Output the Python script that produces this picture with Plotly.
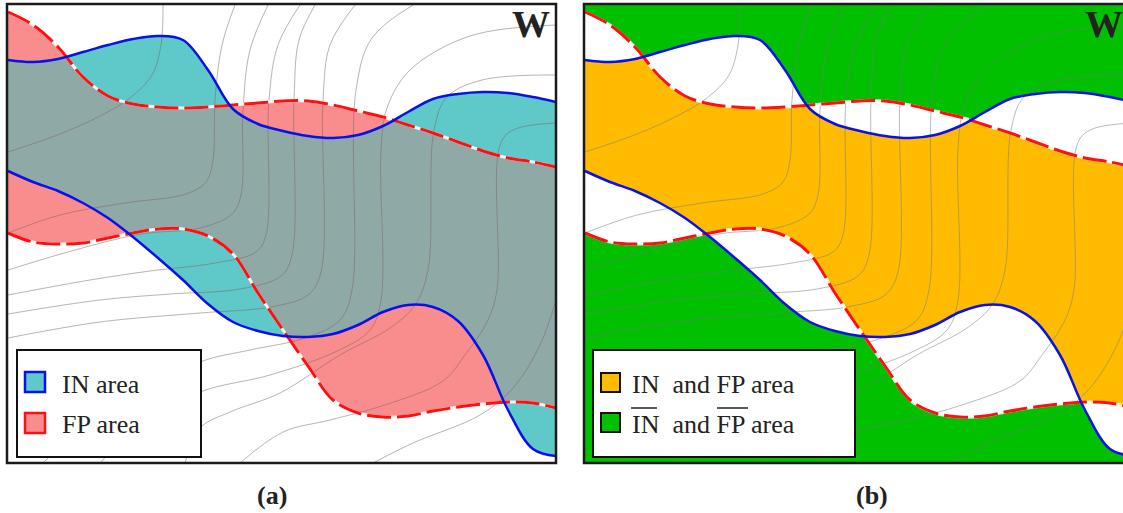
import numpy as np
import plotly.graph_objects as go

FIG_W, FIG_H = 1123, 513

# ---- boundary curves (panel pixel coordinates, y downward) ----
X = [8, 33, 58, 83, 108, 133, 158, 183, 208, 233, 258, 283, 308, 333, 358, 383, 408, 433, 458, 483, 508, 533, 556]
IN_TOP = [60, 62, 59, 52, 45, 39, 36, 40, 70, 109, 124, 131, 136, 138, 135, 126, 112, 99, 94, 92, 93, 97, 102]
IN_BOTTOM = [171, 182, 191, 203, 218, 237, 258, 280, 304, 322, 331, 336, 337, 334, 325, 312, 305, 307, 321, 355, 410, 449, 456]
FP_TOP = [12, 25, 47, 77, 96, 104, 107, 108, 107, 105, 103, 101, 101, 105, 111, 117, 125, 133, 142, 151, 158, 162, 167]
FP_BOTTOM = [233, 242, 244, 243, 238, 233, 229, 229, 236, 254, 293, 330, 366, 400, 413, 417, 416, 411, 407, 404, 402, 403, 408]

# ---- background contour lines ----
CONTOUR_A = [(163, 5), (161, 45), (152, 75), (130, 98), (100, 116), (60, 134), (8, 152)]
CONTOUR_B = [(235, 5), (222, 45), (215, 100), (213, 160), (206, 182), (186, 194), (125, 203), (60, 215), (8, 233)]
CONTOUR_C = [(268, 5), (250, 50), (243, 110), (241, 195), (232, 214), (200, 228), (141, 234), (75, 250), (8, 270)]
CONTOUR_D = [(300, 5), (278, 45), (269, 100), (266, 235), (256, 252), (215, 263), (150, 271), (90, 280), (8, 295)]
CONTOUR_E = [(315, 5), (299, 40), (294, 100), (292, 255), (281, 276), (240, 289), (170, 294), (100, 300), (8, 314)]
CONTOUR_F = [(355, 5), (330, 45), (323, 100), (321, 272), (308, 295), (270, 307), (200, 313), (100, 322), (8, 338)]
CONTOUR_G = [(413, 5), (372, 38), (356, 90), (352, 290), (340, 320), (305, 338), (250, 350), (200, 362), (130, 400), (80, 430), (43, 463)]
CONTOUR_H = [(556, 25), (470, 36), (410, 70), (387, 108), (381, 150), (381, 300), (370, 330), (335, 352), (270, 375), (200, 392), (140, 425), (100, 463)]
CONTOUR_I = [(556, 75), (482, 80), (447, 97), (434, 130), (428, 270), (415, 305), (390, 328), (340, 355), (280, 393), (230, 412), (200, 428), (185, 463)]
CONTOUR_J = [(556, 123), (513, 130), (500, 145), (497, 290), (487, 322), (465, 355), (443, 381), (385, 405), (330, 420), (283, 432), (240, 463)]
CONTOUR_K = [(556, 300), (540, 345), (513, 388), (480, 415), (413, 443), (373, 463)]
CONTOURS = [CONTOUR_A, CONTOUR_B, CONTOUR_C, CONTOUR_D, CONTOUR_E, CONTOUR_F,
            CONTOUR_G, CONTOUR_H, CONTOUR_I, CONTOUR_J, CONTOUR_K]

# ---- colours ----
TEAL = "#5fc8c8"
PINK = "#f98c8c"
GREYMIX = "#8fa9a7"
ORANGE = "#ffbb00"
GREEN = "#00c000"
BLUE = "#0a10e8"
RED = "#ff1010"


def merge(x, a, b, fn):
    xs, ys = [], []
    for i in range(len(x)):
        xs.append(x[i])
        ys.append(fn(a[i], b[i]))
        if i < len(x) - 1:
            d0 = a[i] - b[i]
            d1 = a[i + 1] - b[i + 1]
            if d0 * d1 < 0:
                t = d0 / (d0 - d1)
                xs.append(x[i] + t * (x[i + 1] - x[i]))
                ys.append(a[i] + t * (a[i + 1] - a[i]))
    return xs, ys


ix_t, iy_t = merge(X, IN_TOP, FP_TOP, max)
ix_b, iy_b = merge(X, IN_BOTTOM, FP_BOTTOM, min)
ux_t, uy_t = merge(X, IN_TOP, FP_TOP, min)
ux_b, uy_b = merge(X, IN_BOTTOM, FP_BOTTOM, max)

fig = go.Figure()


def band(xa, ya, xb, yb, color, ax):
    xr, yr = ("x", "y") if ax == 1 else ("x2", "y2")
    fig.add_trace(go.Scatter(x=xa, y=ya, mode="lines", line=dict(width=0, shape="spline"),
                             xaxis=xr, yaxis=yr, hoverinfo="skip", showlegend=False))
    fig.add_trace(go.Scatter(x=xb, y=yb, mode="lines", line=dict(width=0, shape="spline"),
                             fill="tonexty", fillcolor=color,
                             xaxis=xr, yaxis=yr, hoverinfo="skip", showlegend=False))


def contours(ax, color):
    xr, yr = ("x", "y") if ax == 1 else ("x2", "y2")
    for c in CONTOURS:
        fig.add_trace(go.Scatter(x=[p[0] for p in c], y=[p[1] for p in c], mode="lines",
                                 line=dict(width=1, color=color, shape="spline"),
                                 xaxis=xr, yaxis=yr, hoverinfo="skip", showlegend=False))


def boundaries(ax):
    xr, yr = ("x", "y") if ax == 1 else ("x2", "y2")
    for ys in (FP_TOP, FP_BOTTOM):
        fig.add_trace(go.Scatter(x=X, y=ys, mode="lines",
                                 line=dict(width=3, color="rgba(255,255,255,0.85)", shape="spline"),
                                 xaxis=xr, yaxis=yr, hoverinfo="skip", showlegend=False))
        fig.add_trace(go.Scatter(x=X, y=ys, mode="lines",
                                 line=dict(width=3, color=RED, shape="spline", dash="24px,6px"),
                                 xaxis=xr, yaxis=yr, hoverinfo="skip", showlegend=False))
    for ys in (IN_TOP, IN_BOTTOM):
        fig.add_trace(go.Scatter(x=X, y=ys, mode="lines",
                                 line=dict(width=2.5, color=BLUE, shape="spline"),
                                 xaxis=xr, yaxis=yr, hoverinfo="skip", showlegend=False))


# panel (a)
band(X, FP_TOP, X, FP_BOTTOM, PINK, 1)
band(X, IN_TOP, X, IN_BOTTOM, TEAL, 1)
band(ix_t, iy_t, ix_b, iy_b, GREYMIX, 1)
contours(1, "rgba(125,100,100,0.5)")
boundaries(1)

# panel (b)
band(ux_t, uy_t, ux_b, uy_b, "white", 2)
band(ix_t, iy_t, ix_b, iy_b, ORANGE, 2)
contours(2, "rgba(120,120,130,0.5)")
boundaries(2)


def px(x):
    return x / FIG_W


def py(y):
    return 1 - y / FIG_H


shapes = []
# green background of panel (b)
shapes.append(dict(type="rect", xref="x2 domain", yref="y2 domain", x0=0, x1=1, y0=0, y1=1,
                   fillcolor=GREEN, line=dict(width=0), layer="below"))


def rect(x0, y0, x1, y1, fill, lc, lw):
    shapes.append(dict(type="rect", xref="paper", yref="paper", x0=px(x0), x1=px(x1),
                       y0=py(y1), y1=py(y0), fillcolor=fill, line=dict(color=lc, width=lw),
                       layer="above"))


rect(7, 4, 556, 463, "rgba(0,0,0,0)", "#1a1a1a", 2.5)
rect(584, 4, 1135, 463, "rgba(0,0,0,0)", "#1a1a1a", 2.5)

# legends
rect(17, 350, 201, 457, "white", "#111", 2)
rect(25, 372, 45, 392, TEAL, BLUE, 2.5)
rect(25, 413, 45, 433, PINK, RED, 2.5)
rect(593, 350, 855, 457, "white", "#111", 2)
rect(601, 373, 620, 392, ORANGE, "#111", 2)
rect(601, 413, 620, 432, GREEN, "#111", 2)
for (a0, a1) in ((631, 657), (717, 748)):
    shapes.append(dict(type="line", xref="paper", yref="paper", x0=px(a0), x1=px(a1),
                       y0=py(408), y1=py(408), line=dict(color="#222", width=1.5), layer="above"))

SERIF = "Liberation Serif"
ann = []


def text(x, y, s, size, xanchor="left", bold=False):
    ann.append(dict(xref="paper", yref="paper", x=px(x), y=py(y), text=(f"<b>{s}</b>" if bold else s),
                    showarrow=False, xanchor=xanchor, yanchor="middle",
                    font=dict(family=SERIF, size=size, color="#222")))


text(60, 384, "IN area", 26)
text(60, 424, "FP area", 26)
text(630, 384, "IN\u00a0\u00a0and FP area", 26)
text(630, 424, "IN\u00a0\u00a0and FP area", 26)
text(531, 24, "W", 38, xanchor="center", bold=True)
text(1104, 24, "W", 38, xanchor="center", bold=True)
text(272, 495, "(a)", 26, xanchor="center", bold=True)
text(872, 495, "(b)", 26, xanchor="center", bold=True)

ax_common = dict(visible=False, showgrid=False, zeroline=False, fixedrange=True)
fig.update_layout(
    width=FIG_W, height=FIG_H,
    margin=dict(l=0, r=0, t=0, b=0),
    paper_bgcolor="white", plot_bgcolor="white",
    showlegend=False,
    xaxis=dict(domain=[px(7), px(556)], range=[7, 556], **ax_common),
    yaxis=dict(domain=[py(463), py(4)], range=[463, 4], **ax_common),
    xaxis2=dict(domain=[px(584), 1], range=[7, 546], **ax_common),
    yaxis2=dict(domain=[py(463), py(4)], range=[463, 4], anchor="x2", **ax_common),
    shapes=shapes, annotations=ann,
)

fig.write_html("out.html")
